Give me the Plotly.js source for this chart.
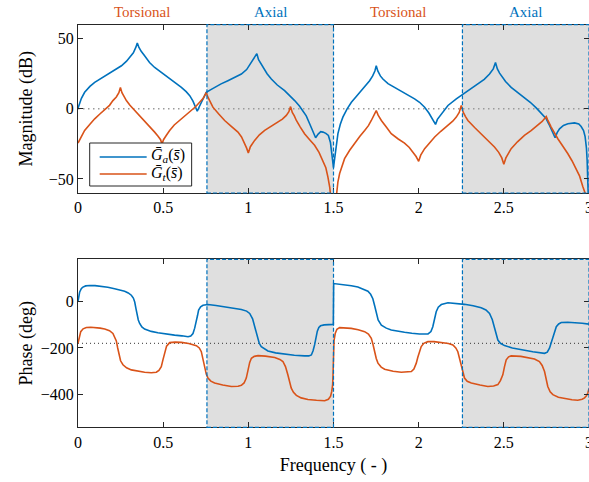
<!DOCTYPE html>
<html>
<head>
<meta charset="utf-8">
<script src="https://cdn.plot.ly/plotly-3.0.1.min.js"></script>
<style>
html,body{margin:0;padding:0;overflow:hidden;background:#fff;}
#chart{width:620px;height:482px;}
</style>
</head>
<body>
<div id="chart"></div>
<script>
// ---------- data ----------
const magA_x = [0,0.01,0.02,0.039,0.07,0.098,0.14,0.176,0.215,0.255,0.285,0.303,0.325,0.34,0.348,0.357,0.371,0.391,0.42,0.45,0.49,0.528,0.57,0.607,0.635,0.656,0.675,0.688,0.70,0.712,0.724,0.74,0.753,0.78,0.802,0.84,0.88,0.92,0.959,0.99,1.018,1.038,1.05,1.06,1.075,1.086,1.11,1.135,1.17,1.213,1.245,1.272,1.3,1.32,1.34,1.36,1.38,1.395,1.41,1.425,1.438,1.455,1.47,1.482,1.49,1.497,1.5,1.504,1.51,1.526,1.54,1.555,1.58,1.605,1.635,1.663,1.69,1.712,1.73,1.743,1.751,1.76,1.775,1.79,1.82,1.859,1.9,1.937,1.976,2.005,2.035,2.06,2.085,2.099,2.11,2.133,2.172,2.221,2.269,2.31,2.347,2.385,2.416,2.438,2.451,2.462,2.475,2.485,2.51,2.543,2.58,2.621,2.655,2.69,2.72,2.749,2.765,2.782,2.801,2.813,2.827,2.85,2.876,2.915,2.94,2.954,2.968,2.977,2.985,2.989,2.995,3.0];
const magA_y = [0.5,5,7.5,11.8,16,18.9,22,24.8,27.5,30.7,34,36.6,40,44,47,44,41,37.8,33,29.5,26,22.4,18.8,15.3,12.3,9.4,5.5,2,-1.7,1.5,4.7,9,11.8,13.7,15.3,17.8,20.1,22.3,24.8,28,33,37,39.4,35,32,29.5,25,21.3,17,13,9.5,5.9,2,-1.2,-5,-10.6,-16,-20.6,-18,-16.3,-16.6,-17.5,-19,-24,-32,-40,-42,-38,-32,-17.7,-11,-5.9,0,4.7,9,13,16.5,20.1,23.5,27,30.7,27,23.5,21.3,18,15.3,12.5,10.1,7.1,4.7,1.2,-3,-8,-11.1,-7.5,-3.6,2.4,7.1,11.1,14.5,17.7,21,24.8,28.5,33.1,28.5,25.5,23.6,19.5,15.3,11.8,8.3,4.7,0.7,-3,-7.1,-11,-15.4,-20.6,-17,-14.2,-11.8,-10.6,-10,-10.8,-12.6,-15.5,-19.7,-28,-36.7,-60,-80];

const magT_x = [0,0.02,0.039,0.07,0.098,0.13,0.157,0.185,0.205,0.225,0.24,0.249,0.258,0.27,0.284,0.305,0.333,0.36,0.391,0.42,0.45,0.47,0.485,0.493,0.502,0.518,0.538,0.565,0.597,0.63,0.665,0.69,0.714,0.735,0.748,0.753,0.762,0.775,0.792,0.825,0.861,0.9,0.939,0.96,0.978,0.99,1.0,1.012,1.037,1.065,1.096,1.135,1.174,1.2,1.223,1.238,1.248,1.258,1.27,1.282,1.305,1.33,1.36,1.389,1.415,1.438,1.455,1.467,1.478,1.49,1.5,1.51,1.526,1.536,1.55,1.565,1.595,1.624,1.655,1.683,1.705,1.722,1.74,1.751,1.762,1.781,1.81,1.839,1.88,1.917,1.945,1.966,1.985,2.0,2.012,2.035,2.065,2.094,2.13,2.172,2.2,2.221,2.238,2.25,2.262,2.275,2.289,2.33,2.367,2.405,2.445,2.47,2.488,2.5,2.512,2.528,2.543,2.58,2.621,2.66,2.7,2.725,2.742,2.749,2.758,2.778,2.817,2.85,2.876,2.9,2.925,2.945,2.964,2.977,2.99,3.0];
const magT_y = [-24.4,-19.5,-15.4,-11,-7.1,-3.5,-0.7,2.5,5.9,8.5,11.5,15.3,11.5,8.5,5.9,2.5,-1.2,-4.5,-8.3,-12,-16.6,-19.5,-22,-25.3,-22,-19,-15.4,-11.5,-8.3,-4.8,-1.2,1.5,4.7,7.5,10.5,11.8,8.5,5,1.2,-3.5,-8.3,-12.5,-16.6,-20,-24.4,-28,-31.5,-27,-22.5,-18.5,-15.4,-12.3,-9.5,-7.3,-4.7,-2,1.6,-2.5,-5,-8.3,-13,-17.7,-22,-26,-31,-36.7,-42,-48.5,-56,-70,-100,-70,-52,-46.1,-40.5,-35.5,-29.5,-24.4,-19.5,-15.4,-12,-8.3,-4.5,-1.2,-4.5,-8.3,-13,-17.7,-21.5,-24.4,-27.5,-30.7,-34,-37.4,-33,-28.4,-24,-20.1,-16,-11.8,-8.8,-5.9,-2.5,2.4,-2.5,-5.5,-8.3,-13.5,-17.7,-22,-27.2,-31,-35,-39.5,-35,-31.5,-28.4,-23.5,-18.9,-15.5,-11.8,-9,-6.5,-5.5,-8,-13,-21.3,-27,-32,-37,-42.6,-48,-55.6,-60,-70,-90];

const phA_x = [0,0.005,0.01,0.02,0.029,0.045,0.069,0.1,0.137,0.175,0.215,0.25,0.274,0.295,0.313,0.325,0.333,0.34,0.346,0.354,0.362,0.375,0.391,0.43,0.469,0.52,0.567,0.61,0.646,0.662,0.675,0.685,0.695,0.702,0.708,0.72,0.734,0.763,0.81,0.861,0.91,0.959,0.99,1.008,1.025,1.037,1.045,1.053,1.064,1.076,1.095,1.115,1.16,1.213,1.27,1.33,1.355,1.37,1.38,1.389,1.397,1.405,1.414,1.424,1.445,1.467,1.499,1.501,1.53,1.565,1.605,1.643,1.675,1.702,1.718,1.731,1.742,1.751,1.762,1.781,1.81,1.839,1.88,1.917,1.96,2.005,2.055,2.072,2.083,2.093,2.103,2.115,2.133,2.172,2.22,2.269,2.32,2.367,2.395,2.416,2.432,2.445,2.455,2.465,2.48,2.504,2.55,2.602,2.67,2.739,2.755,2.768,2.778,2.788,2.798,2.808,2.822,2.837,2.875,2.915,2.96,3.0];
const phA_y = [0,20,40,55,61,66,68,67,64,60,54,48,43,36,26,14,-3,-30,-60,-80,-95,-110,-119,-129,-135,-141,-145,-148,-152,-149,-138,-115,-88,-60,-38,-24,-17,-14,-18,-24,-29,-35,-42,-52,-75,-109,-135,-159,-180,-194,-205,-213,-221,-227,-231,-234,-234,-230,-212,-187,-155,-128,-112,-105,-101,-99,-99,76,74,71,67,61,53,43,30,11,-20,-52,-80,-102,-115,-123,-129,-133,-137,-140,-140,-130,-109,-75,-45,-25,-14,-6,-8,-13,-19,-28,-37,-52,-78,-109,-140,-166,-180,-190,-200,-208,-216,-223,-218,-201,-178,-152,-128,-109,-97,-91,-90,-91,-94,-98];

const phT_x = [0,0.005,0.01,0.016,0.03,0.049,0.075,0.098,0.13,0.157,0.185,0.205,0.216,0.225,0.233,0.241,0.25,0.264,0.285,0.313,0.35,0.391,0.43,0.46,0.475,0.489,0.499,0.509,0.52,0.538,0.57,0.607,0.65,0.695,0.712,0.724,0.734,0.744,0.753,0.763,0.78,0.802,0.85,0.9,0.94,0.959,0.975,0.988,0.998,1.008,1.018,1.035,1.057,1.1,1.155,1.185,1.203,1.218,1.232,1.242,1.252,1.265,1.282,1.31,1.35,1.4,1.448,1.47,1.483,1.49,1.495,1.497,1.5,1.503,1.51,1.52,1.536,1.57,1.604,1.645,1.683,1.705,1.722,1.732,1.741,1.751,1.761,1.78,1.8,1.85,1.898,1.935,1.957,1.972,1.986,1.995,2.005,2.015,2.03,2.054,2.09,2.133,2.175,2.201,2.218,2.23,2.24,2.25,2.26,2.269,2.285,2.309,2.36,2.406,2.44,2.465,2.48,2.494,2.504,2.514,2.528,2.543,2.6,2.641,2.68,2.709,2.725,2.739,2.748,2.758,2.772,2.788,2.82,2.856,2.9,2.934,2.96,2.974,2.985,2.993,3.0];
const phT_y = [-180,-160,-143,-130,-118,-112,-111,-112,-115,-119,-126,-138,-152,-170,-200,-230,-255,-272,-285,-294,-300,-304,-306,-304,-296,-280,-250,-216,-192,-177,-175,-176,-181,-190,-200,-216,-250,-287,-312,-329,-342,-350,-359,-365,-364,-360,-350,-329,-290,-262,-244,-236,-233,-235,-241,-249,-258,-280,-315,-345,-372,-390,-403,-414,-421,-424,-426,-420,-407,-385,-357,-320,-230,-170,-138,-120,-113,-113,-116,-122,-130,-140,-159,-185,-216,-245,-265,-282,-291,-300,-304,-304,-301,-290,-265,-240,-216,-194,-180,-173,-173,-176,-181,-187,-200,-216,-245,-272,-305,-329,-343,-350,-359,-365,-363,-357,-340,-315,-280,-251,-238,-234,-236,-240,-247,-258,-275,-301,-335,-365,-388,-400,-411,-417,-422,-424,-420,-414,-405,-393,-375];

const bandStart = [0.757, 2.257];
const bandEnd = [1.5, 3.0];
const bandLabels = ['Torsional', 'Axial', 'Torsional', 'Axial'];
const bandLabelX = [0.3785, 1.1285, 1.8785, 2.6285];
const xTicks = [0, 0.5, 1, 1.5, 2, 2.5, 3];
const xTickText = ['0', '0.5', '1', '1.5', '2', '2.5', '3'];
const magTicks = [-50, 0, 50];
const phaseTicks = [-400, -200, 0];
const seriesNames = ['<i>Ḡ</i><sub><i>a</i></sub>(<i>s̄</i>)', '<i>Ḡ</i><sub><i>t</i></sub>(<i>s̄</i>)'];

// ---------- styling ----------
const BLUE = '#0072BD', ORANGE = '#D95319', AX = '#262626';
const FONT = "'Liberation Serif', 'DejaVu Serif', serif";
const W = 620, H = 482, ML = 78.3, MR = 30.5;
const PW = W - ML - MR;
const px2x = p => (p - ML) / PW;   // pixel -> paper x (plot-area relative)
const py2y = p => 1 - p / H;       // pixel -> paper y

const traces = [
  {x: magA_x, y: magA_y, xaxis: 'x', yaxis: 'y', mode: 'lines', name: seriesNames[0], line: {color: BLUE, width: 1.6}},
  {x: magT_x, y: magT_y, xaxis: 'x', yaxis: 'y', mode: 'lines', name: seriesNames[1], line: {color: ORANGE, width: 1.6}},
  {x: phA_x, y: phA_y, xaxis: 'x2', yaxis: 'y2', mode: 'lines', line: {color: BLUE, width: 1.6}},
  {x: phT_x, y: phT_y, xaxis: 'x2', yaxis: 'y2', mode: 'lines', line: {color: ORANGE, width: 1.6}}
];

const shapes = [];
[['x', 'y'], ['x2', 'y2']].forEach(([xa, ya]) => {
  for (let i = 0; i < bandStart.length; i++) {
    shapes.push({type: 'rect', xref: xa, yref: ya + ' domain', x0: bandStart[i], x1: bandEnd[i], y0: 0, y1: 1,
      fillcolor: '#dfdfdf', line: {width: 0}, layer: 'below'});
  }
});
shapes.push({type: 'line', xref: 'x domain', yref: 'y', x0: 0, x1: 1, y0: 0, y1: 0, layer: 'below',
  line: {color: '#9a9a9a', width: 1.5, dash: '1.5px,3.5px'}});
shapes.push({type: 'line', xref: 'x2 domain', yref: 'y2', x0: 0, x1: 1, y0: -180, y1: -180, layer: 'below',
  line: {color: '#333333', width: 1, dash: '1px,3px'}});
[['x', 'y'], ['x2', 'y2']].forEach(([xa, ya]) => {
  for (let i = 0; i < bandStart.length; i++) {
    shapes.push({type: 'rect', xref: xa, yref: ya + ' domain', x0: bandStart[i], x1: bandEnd[i], y0: 0, y1: 1,
      fillcolor: 'rgba(0,0,0,0)', line: {color: BLUE, width: 1.2, dash: '4px,2px'}, layer: 'above'});
  }
});

// hand-drawn legend box (MATLAB style, long line samples)
shapes.push({type: 'rect', xref: 'paper', yref: 'paper', x0: px2x(90), x1: px2x(192), y0: py2y(186), y1: py2y(143),
  fillcolor: '#ffffff', line: {color: AX, width: 1}, layer: 'above'});
const legColors = [BLUE, ORANGE];
const legY = [157, 174];
legColors.forEach((c, i) => {
  shapes.push({type: 'line', xref: 'paper', yref: 'paper', x0: px2x(100), x1: px2x(147), y0: py2y(legY[i]), y1: py2y(legY[i]),
    line: {color: c, width: 1.6}, layer: 'above'});
});

const annotations = bandLabels.map((t, i) => ({
  text: t, x: bandLabelX[i], xref: 'x', y: py2y(12), yref: 'paper', yanchor: 'middle', showarrow: false,
  font: {family: FONT, size: 15, color: (t === 'Axial') ? BLUE : ORANGE}
}));
seriesNames.forEach((s, i) => {
  annotations.push({text: s, xref: 'paper', yref: 'paper', x: px2x(149), y: py2y(legY[i] - 1), xanchor: 'left', yanchor: 'middle',
    showarrow: false, font: {family: FONT, size: 16, color: '#000'}});
});

function xax(extra) {
  return Object.assign({
    range: [0, 3], domain: [0, 1], tickvals: xTicks, ticktext: xTickText,
    ticks: 'inside', ticklen: 5, tickcolor: AX, showline: true, linecolor: AX, linewidth: 1, mirror: 'ticks',
    showgrid: false, zeroline: false, tickfont: {family: FONT, size: 16, color: '#000'}, fixedrange: true
  }, extra);
}
function yax(extra) {
  return Object.assign({
    ticks: 'inside', ticklen: 5, tickcolor: AX, showline: true, linecolor: AX, linewidth: 1, mirror: 'ticks',
    showgrid: false, zeroline: false, tickfont: {family: FONT, size: 16, color: '#000'}, fixedrange: true
  }, extra);
}

const layout = {
  width: W, height: H,
  font: {family: FONT},
  margin: {l: ML, r: MR, t: 0, b: 0},
  paper_bgcolor: '#fff', plot_bgcolor: '#fff',
  showlegend: false,
  xaxis: xax({anchor: 'y'}),
  yaxis: yax({anchor: 'x', domain: [py2y(193), py2y(24.7)], range: [-60, 60], tickvals: magTicks,
    title: {text: 'Magnitude (dB)', font: {family: FONT, size: 18, color: '#000'}}}),
  xaxis2: xax({anchor: 'y2', title: {text: 'Frequency ( - )', standoff: 8, font: {family: FONT, size: 18, color: '#000'}}}),
  yaxis2: yax({anchor: 'x2', domain: [py2y(427.3), py2y(259.3)], range: [-540, 180], tickvals: phaseTicks,
    title: {text: 'Phase (deg)', font: {family: FONT, size: 18, color: '#000'}}}),
  shapes: shapes,
  annotations: annotations
};

Plotly.newPlot('chart', traces, layout, {displayModeBar: false, staticPlot: true});
</script>
</body>
</html>
